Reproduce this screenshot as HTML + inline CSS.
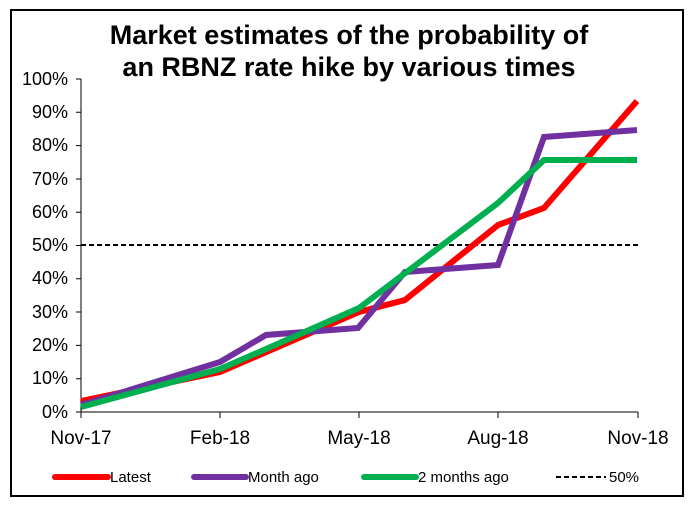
<!DOCTYPE html>
<html><head><style>body{margin:0;background:#fff}</style></head><body>
<svg width="694" height="506" xmlns="http://www.w3.org/2000/svg" font-family="Liberation Sans, Arial, sans-serif">
<rect x="11" y="10" width="672" height="486" fill="#fff" stroke="#000" stroke-width="2"/>
<text x="349" y="44" text-anchor="middle" font-size="27" font-weight="bold">Market estimates of the probability of</text>
<text x="349" y="76" text-anchor="middle" font-size="27" font-weight="bold">an RBNZ rate hike by various times</text>
<g stroke="#000" stroke-width="1" fill="none">
<line x1="81" y1="79" x2="81" y2="412"/>
<line x1="81" y1="412" x2="638" y2="412"/>
<path d="M76 79h5M76 112.3h5M76 145.6h5M76 179h5M76 212.2h5M76 245.5h5M76 278.8h5M76 312h5M76 345.4h5M76 378.7h5M76 412h5"/>
<path d="M81 412v6M220 412v6M359 412v6M498 412v6M638 412v6"/>
</g>
<g font-size="18" text-anchor="end">
<text x="68" y="85">100%</text><text x="68" y="118">90%</text><text x="68" y="151">80%</text><text x="68" y="185">70%</text><text x="68" y="218">60%</text><text x="68" y="251">50%</text><text x="68" y="284">40%</text><text x="68" y="318">30%</text><text x="68" y="351">20%</text><text x="68" y="384">10%</text><text x="68" y="418">0%</text>
</g>
<g font-size="19" text-anchor="middle">
<text x="81" y="444">Nov-17</text><text x="220" y="444">Feb-18</text><text x="359" y="444">May-18</text><text x="498" y="444">Aug-18</text><text x="638" y="444">Nov-18</text>
</g>
<line x1="81" y1="245" x2="638" y2="245" stroke="#000" stroke-width="2" stroke-dasharray="5,3"/>
<g fill="none" stroke-width="6" stroke-linejoin="miter">
<polyline stroke="#ff0000" points="81,401 220,372 359,312 405,300 498,225 544,208 637,101"/>
<polyline stroke="#7030a0" points="81,405 220,362 266,335 358,328 405,272 498,265 544,137 637,130"/>
<polyline stroke="#00b050" points="81,407 220,369 266,349 359,308 498,203 544,160 637,160"/>
</g>
<g font-size="15">
<line x1="55" y1="477" x2="108" y2="477" stroke="#ff0000" stroke-width="6" stroke-linecap="round"/><text x="110" y="482">Latest</text>
<line x1="194" y1="477" x2="246" y2="477" stroke="#7030a0" stroke-width="6" stroke-linecap="round"/><text x="248" y="482">Month ago</text>
<line x1="364" y1="477" x2="416" y2="477" stroke="#00b050" stroke-width="6" stroke-linecap="round"/><text x="418" y="482">2 months ago</text>
<line x1="556" y1="477" x2="606" y2="477" stroke="#000" stroke-width="2" stroke-dasharray="5,3"/><text x="609" y="482">50%</text>
</g>
</svg>
</body></html>
